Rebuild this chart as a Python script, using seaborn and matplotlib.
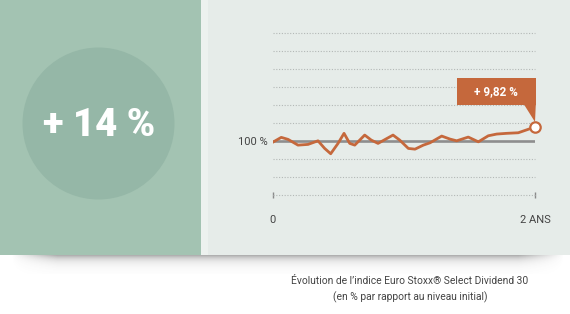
import numpy as np
import matplotlib
matplotlib.use("Agg")
import matplotlib.pyplot as plt
import seaborn as sns
from matplotlib.patches import Rectangle, Circle, Polygon

# ---- data ----
months = [0.0, 0.80, 1.42, 2.33, 3.25, 4.16, 4.77, 5.32, 5.99, 6.54, 7.06, 7.52,
          8.43, 9.03, 9.65, 11.02, 11.63, 12.42, 13.03, 13.79, 14.40, 15.47, 16.23,
          16.84, 17.90, 18.82, 19.73, 20.50, 21.41, 22.47, 24.0]
values = [99.1, 102.6, 101.2, 97.2, 97.7, 100.2, 94.9, 91.2, 98.4, 105.4, 98.4, 97.2,
          104.2, 100.7, 98.4, 104.2, 100.7, 94.9, 94.4, 97.2, 98.8, 103.5, 101.4,
          100.2, 102.8, 99.5, 103.7, 104.9, 105.4, 105.8, 109.82]
baseline = 100
grid_step = 12.5
x_ticks = [0, 24]
x_tick_labels = ["0", "2 ANS"]
y_tick_labels = ["100 %"]
final_label = "+ 9,82 %"
headline = "+ 14 %"
caption_lines = ["Évolution de l\u2019indice Euro Stoxx\u00ae Select Dividend 30",
                 "(en % par rapport au niveau initial)"]

# ---- style ----
sns.set_theme(style="white")
plt.rcParams['font.family'] = ['Roboto', 'DejaVu Sans']

ORANGE = '#c5683c'
TXT = '#444444'
W, H = 570, 314

fig = plt.figure(figsize=(W / 100, H / 100), dpi=100)
fig.patch.set_facecolor('white')

# background layer in pixel coordinates
bg = fig.add_axes([0, 0, 1, 1], zorder=0)
bg.set_xlim(0, W)
bg.set_ylim(H, 0)
bg.axis('off')

# shadow under the card
ny, nx = 40, 600
yy = np.linspace(0, 1, ny)[:, None]
xx = np.linspace(0, 1, nx)[None, :]
alpha = 0.6 * np.exp(-yy * 4.0) * np.clip((xx - 0.02) / 0.08, 0, 1) * np.clip((0.99 - xx) / 0.08, 0, 1)
img = np.zeros((ny, nx, 4))
img[..., 0:3] = 0.33
img[..., 3] = alpha
bg.imshow(img, extent=(0, W, 254 + 20, 254), aspect='auto', interpolation='bilinear', zorder=0)

bg.add_patch(Rectangle((0, 0), 201, 255, color='#a3c3b2', zorder=1, lw=0))
bg.add_patch(Rectangle((201, 0), W - 201, 255, color='#e6ece9', zorder=1, lw=0))
bg.add_patch(Rectangle((201, 0), 7, 255, color='#edf2ef', zorder=1, lw=0))
bg.add_patch(Circle((98.5, 123.5), 76, color='#95b7a7', zorder=2, lw=0))
bg.text(99, 125, headline, color='white', fontsize=27.5, fontweight='heavy',
        ha='center', va='center', zorder=3)

for i, line in enumerate(caption_lines):
    bg.text(410, 281 + 16 * i, line, color=TXT, fontsize=7.4, ha='center', va='center', zorder=3)

# ---- chart axes ----
ax = fig.add_axes([272.5 / W, 1 - 195 / H, 262.5 / W, (195 - 33.3) / H], zorder=1)
ax.patch.set_alpha(0)
ax.set_xlim(0, 24)
ax.set_ylim(baseline - 3 * grid_step, baseline + 6 * grid_step)
for s in ax.spines.values():
    s.set_visible(False)

for k in range(-3, 7):
    if k == 0:
        continue
    ax.axhline(baseline + k * grid_step, color='#b3b8b6', lw=0.8,
               ls=(0, (1, 1.5)), zorder=1, clip_on=False)
ax.axhline(baseline, color='#8e8e8e', lw=1.9, zorder=2)

sns.lineplot(x=months, y=values, ax=ax, color=ORANGE, lw=2.0, zorder=3)
for ln in ax.lines[-1:]:
    ln.set_solid_joinstyle('round')
    ln.set_solid_capstyle('round')

ax.set_xticks(x_ticks)
ax.set_xticklabels(x_tick_labels)
ax.set_yticks([baseline])
ax.set_yticklabels(y_tick_labels)
ax.tick_params(axis='x', direction='inout', length=5, width=1, color='#8a8a8a',
               pad=12, labelsize=8, labelcolor=TXT, bottom=True)
ax.tick_params(axis='y', length=0, pad=3.5, labelsize=8, labelcolor=TXT)
ax.set_xlabel('')
ax.set_ylabel('')
ax.grid(False)

# callout box anchored on the end point, drawn on a top overlay
top = fig.add_axes([0, 0, 1, 1], zorder=2)
top.set_xlim(0, W)
top.set_ylim(H, 0)
top.axis('off')
top.patch.set_alpha(0)
ex, ey = top.transData.inverted().transform(ax.transData.transform((months[-1], values[-1])))
bx0, bx1, by0, by1 = ex - 78, ex + 0.8, ey - 49, ey - 22
top.add_patch(Rectangle((bx0, by0), bx1 - bx0, by1 - by0, color=ORANGE, lw=0))
top.add_patch(Polygon([(ex - 11, by1 - 0.5), (bx1, by1 - 0.5), (ex, ey - 5)],
                      closed=True, color=ORANGE, lw=0))
top.text((bx0 + bx1) / 2, (by0 + by1) / 2 + 0.5, final_label, color='white',
         fontsize=8.5, fontweight='bold', ha='center', va='center')
top.plot([ex], [ey], 'o', mfc='white', mec=ORANGE, ms=7.5, mew=1.6)

fig.savefig('out.png', dpi=100)
